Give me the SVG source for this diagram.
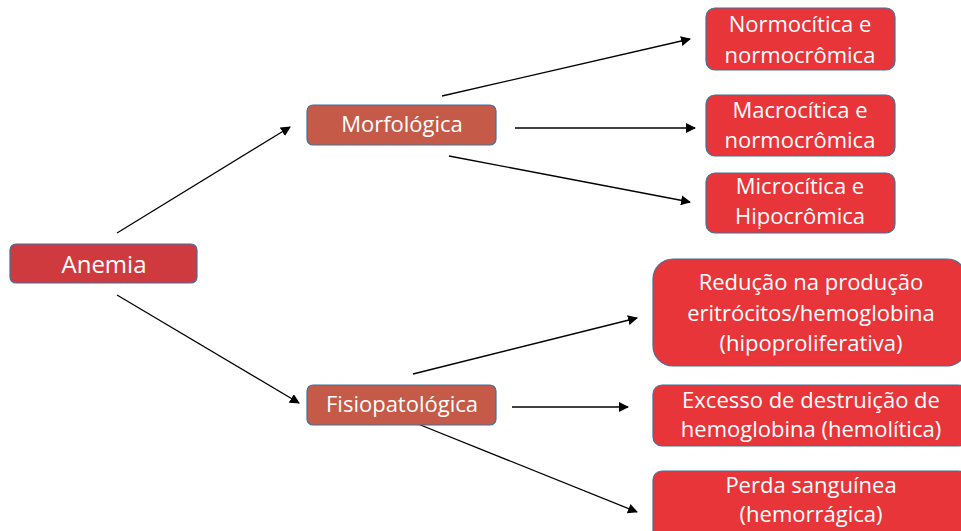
<svg xmlns="http://www.w3.org/2000/svg" width="961" height="531" viewBox="0 0 961 531">
<style>
.box{stroke:#41719c;stroke-width:1.2}
.root{fill:#cf3a3f}
.mid{fill:#c55a48}
.leaf{fill:#e83539}
text{font-family:"Open Sans","Noto Sans","Liberation Sans",sans-serif;font-size:22px;fill:#ffffff;text-anchor:middle}
.conn line{stroke:#000;stroke-width:1.3;marker-end:url(#arr)}
.squig{fill:none;stroke:#ff3030;stroke-width:0.9}
</style>
<defs>
<marker id="arr" viewBox="0 0 10 10" refX="9" refY="5" markerWidth="10" markerHeight="10" markerUnits="userSpaceOnUse" orient="auto">
<path d="M0,0 L10,5 L0,10 z" fill="#000"/>
</marker>
<path id="w150" d="M0,0 l2,-1.6 2,1.6 2,-1.6 2,1.6 2,-1.6 2,1.6 2,-1.6 2,1.6 2,-1.6 2,1.6 2,-1.6 2,1.6 2,-1.6 2,1.6 2,-1.6 2,1.6 2,-1.6 2,1.6 2,-1.6 2,1.6 2,-1.6 2,1.6 2,-1.6 2,1.6 2,-1.6 2,1.6 2,-1.6 2,1.6 2,-1.6 2,1.6 2,-1.6 2,1.6 2,-1.6 2,1.6 2,-1.6 2,1.6 2,-1.6 2,1.6 2,-1.6 2,1.6 2,-1.6 2,1.6 2,-1.6 2,1.6 2,-1.6 2,1.6 2,-1.6 2,1.6 2,-1.6 2,1.6 2,-1.6 2,1.6 2,-1.6 2,1.6 2,-1.6 2,1.6 2,-1.6 2,1.6 2,-1.6 2,1.6 2,-1.6 2,1.6 2,-1.6 2,1.6 2,-1.6 2,1.6 2,-1.6 2,1.6 2,-1.6 2,1.6 2,-1.6 2,1.6 2,-1.6 2,1.6 2,-1.6 2,1.6"/>
<path id="w128" d="M0,0 l2,-1.6 2,1.6 2,-1.6 2,1.6 2,-1.6 2,1.6 2,-1.6 2,1.6 2,-1.6 2,1.6 2,-1.6 2,1.6 2,-1.6 2,1.6 2,-1.6 2,1.6 2,-1.6 2,1.6 2,-1.6 2,1.6 2,-1.6 2,1.6 2,-1.6 2,1.6 2,-1.6 2,1.6 2,-1.6 2,1.6 2,-1.6 2,1.6 2,-1.6 2,1.6 2,-1.6 2,1.6 2,-1.6 2,1.6 2,-1.6 2,1.6 2,-1.6 2,1.6 2,-1.6 2,1.6 2,-1.6 2,1.6 2,-1.6 2,1.6 2,-1.6 2,1.6 2,-1.6 2,1.6 2,-1.6 2,1.6 2,-1.6 2,1.6 2,-1.6 2,1.6 2,-1.6 2,1.6 2,-1.6 2,1.6 2,-1.6 2,1.6 2,-1.6 2,1.6 2,-1.6 2,1.6 2,-1.6 2,1.6"/>
<path id="w172" d="M0,0 l2,-1.6 2,1.6 2,-1.6 2,1.6 2,-1.6 2,1.6 2,-1.6 2,1.6 2,-1.6 2,1.6 2,-1.6 2,1.6 2,-1.6 2,1.6 2,-1.6 2,1.6 2,-1.6 2,1.6 2,-1.6 2,1.6 2,-1.6 2,1.6 2,-1.6 2,1.6 2,-1.6 2,1.6 2,-1.6 2,1.6 2,-1.6 2,1.6 2,-1.6 2,1.6 2,-1.6 2,1.6 2,-1.6 2,1.6 2,-1.6 2,1.6 2,-1.6 2,1.6 2,-1.6 2,1.6 2,-1.6 2,1.6 2,-1.6 2,1.6 2,-1.6 2,1.6 2,-1.6 2,1.6 2,-1.6 2,1.6 2,-1.6 2,1.6 2,-1.6 2,1.6 2,-1.6 2,1.6 2,-1.6 2,1.6 2,-1.6 2,1.6 2,-1.6 2,1.6 2,-1.6 2,1.6 2,-1.6 2,1.6 2,-1.6 2,1.6 2,-1.6 2,1.6 2,-1.6 2,1.6 2,-1.6 2,1.6 2,-1.6 2,1.6 2,-1.6 2,1.6 2,-1.6 2,1.6 2,-1.6 2,1.6 2,-1.6 2,1.6 2,-1.6 2,1.6 2,-1.6 2,1.6"/>
</defs>
<rect width="961" height="531" fill="#ffffff"/>
<g id="connectors" class="conn">
<line x1="117" y1="233" x2="290" y2="127"/>
<line x1="117" y1="295" x2="299" y2="403"/>
<line x1="442" y1="96" x2="690" y2="39"/>
<line x1="515" y1="128" x2="695" y2="128"/>
<line x1="449" y1="156" x2="690" y2="202"/>
<line x1="413" y1="374" x2="637" y2="318"/>
<line x1="512" y1="407" x2="628" y2="407"/>
<line x1="413" y1="422" x2="637" y2="512"/>
</g>
<g id="anemia">
<rect class="box root" x="10" y="244" width="187" height="39" rx="6"/>
<text x="104" y="273" style="font-size:24px">Anemia</text>
</g>
<g id="morfologica">
<rect class="box mid" x="307" y="105" width="189" height="40" rx="6"/>
<text x="402" y="132">Morfológica</text>
</g>
<g id="fisiopatologica">
<rect class="box mid" x="307" y="385" width="189" height="40" rx="6"/>
<text x="402" y="412">Fisiopatológica</text>
</g>
<g id="normocitica">
<rect class="box leaf" x="706" y="8" width="189" height="62" rx="9"/>
<text x="800" y="32">Normocítica e</text>
<text x="800" y="63">normocrômica</text>
<use href="#w150" class="squig" x="725" y="67"/>
</g>
<g id="macrocitica">
<rect class="box leaf" x="706" y="95" width="189" height="61" rx="9"/>
<text x="800" y="118">Macrocítica e</text>
<text x="800" y="148">normocrômica</text>
<use href="#w150" class="squig" x="725" y="152"/>
</g>
<g id="microcitica">
<rect class="box leaf" x="706" y="173" width="189" height="60" rx="9"/>
<text x="800" y="194">Microcítica e</text>
<text x="800" y="224">Hipocrômica</text>
<use href="#w128" class="squig" x="737" y="228"/>
</g>
<g id="reducao">
<rect class="box leaf" x="653" y="259" width="314" height="107" rx="20"/>
<text x="811" y="290">Redução na produção</text>
<text x="811" y="321">eritrócitos/hemoglobina</text>
<text x="811" y="351">(hipoproliferativa)</text>
<use href="#w172" class="squig" x="725" y="357"/>
</g>
<g id="excesso">
<rect class="box leaf" x="653" y="385" width="314" height="61" rx="9"/>
<text x="811" y="408">Excesso de destruição de</text>
<text x="811" y="437">hemoglobina (hemolítica)</text>
</g>
<g id="perda">
<rect class="box leaf" x="653" y="471" width="314" height="75" rx="9"/>
<text x="811" y="493">Perda sanguínea</text>
<text x="811" y="522">(hemorrágica)</text>
</g>
</svg>
